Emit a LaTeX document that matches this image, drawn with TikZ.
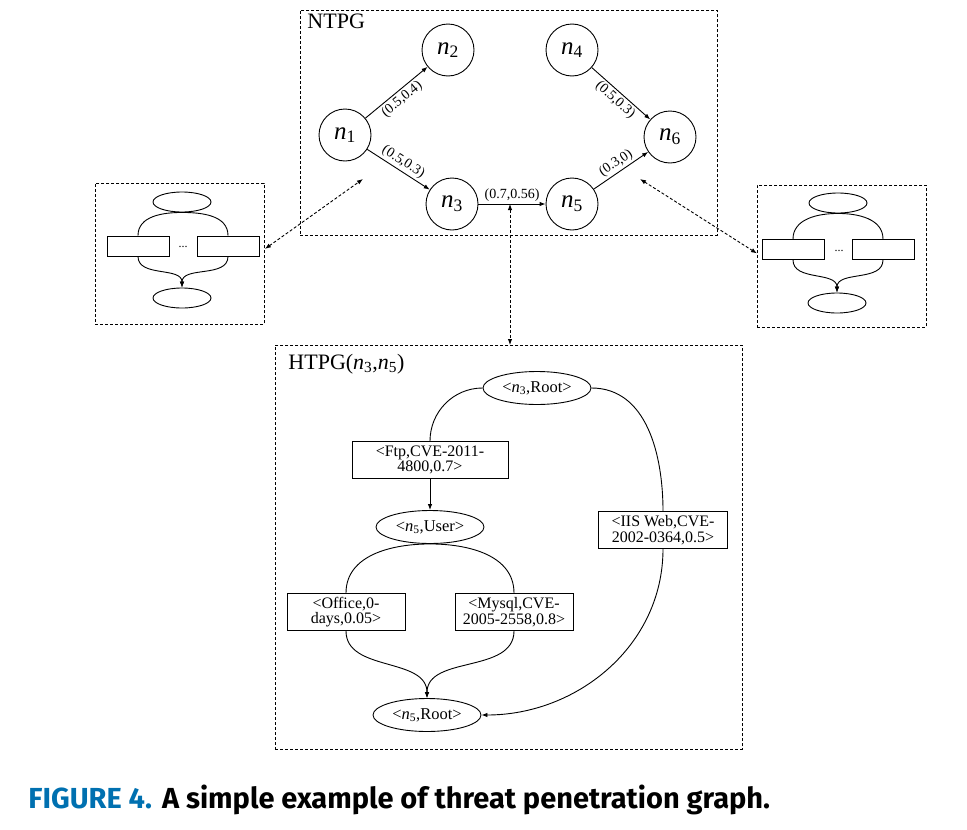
\documentclass[tikz,border=0pt]{standalone}
\usepackage{fontspec}
\setmainfont{Liberation Serif}
\newfontfamily\capfont{Fira Sans}
\usetikzlibrary{positioning, shapes.geometric, arrows.meta}
\definecolor{figblue}{RGB}{0,112,176}
\newcommand{\nsub}[1]{\textit{n}\textsubscript{#1}}

\begin{document}
\begin{tikzpicture}[x=1pt, y=1pt, line width=0.9pt,
    state/.style={draw, circle, minimum size=52pt, inner sep=0pt, font=\fontsize{25}{25}\selectfont},
    frame/.style={draw, dash pattern=on 3pt off 2pt, inner sep=0pt},
    edge/.style={-{Latex[length=6pt,width=4.5pt]}},
    link/.style={{Latex[length=6pt,width=4.5pt]}-{Latex[length=6pt,width=4.5pt]}, dash pattern=on 3pt off 2pt},
    weight/.style={font=\fontsize{14}{14}\selectfont, inner sep=2pt},
    title/.style={anchor=north west, inner sep=0pt, font=\fontsize{22}{22}\selectfont},
    priv/.style={draw, ellipse, minimum width=108pt, minimum height=33pt, inner sep=0pt, font=\fontsize{16.5}{16.5}\selectfont},
    vuln/.style={draw, rectangle, minimum height=37pt, inner sep=1pt, align=center, font=\fontsize{16}{15.5}\selectfont},
    blob/.style={draw, ellipse, minimum width=58pt, minimum height=20pt, inner sep=0pt},
    slot/.style={draw, rectangle, minimum width=62pt, minimum height=20pt, inner sep=0pt}
]
\useasboundingbox (0,0) rectangle (967,-830);

% network level threat penetration graph
\node[frame, minimum width=417pt, minimum height=225pt, anchor=north west] (ntpg) at (300,-10) {};
\node[title] (ntpglab) at (307,-13) {NTPG};
\node[state] (n1) at (345,-135) {\nsub{1}};
\node[state] (n2) at (448,-50) {\nsub{2}};
\node[state] (n3) at (452,-204) {\nsub{3}};
\node[state] (n4) at (572,-50) {\nsub{4}};
\node[state] (n5) at (572,-204) {\nsub{5}};
\node[state] (n6) at (670,-137) {\nsub{6}};

\draw[edge] (n1) -- node[weight, sloped, below] {(0.5,0.4)} (n2);
\draw[edge] (n1) -- node[weight, sloped, above] {(0.5,0.3)} (n3);
\draw[edge] (n3) -- node[weight, above] {(0.7,0.56)} (n5);
\draw[edge] (n4) -- node[weight, sloped, below] {(0.5,0.3)} (n6);
\draw[edge] (n5) -- node[weight, sloped, above] {(0.3,0)} (n6);

% left host graph
\node[frame, minimum width=169pt, minimum height=141pt, anchor=north west] (lbox) at (95,-183) {};
\node[blob] (ltop) at (182,-202) {};
\node[slot] (lslot1) at (138,-246) {};
\node[slot] (lslot2) at (228,-246) {};
\node[font=\fontsize{12}{12}\selectfont] (ldots) at (183,-247) {...};
\node[blob] (lbot) at (182,-298) {};
\draw (ltop.south) to[out=180, in=90] (lslot1.north);
\draw (ltop.south) to[out=0, in=90] (lslot2.north);
\draw[edge] (lslot1.south) to[out=-90, in=90] (lbot.north);
\draw[edge] (lslot2.south) to[out=-90, in=90] (lbot.north);

% right host graph
\node[frame, minimum width=169pt, minimum height=142pt, anchor=north west] (rbox) at (757,-185) {};
\node[blob] (rtop) at (838,-203) {};
\node[slot] (rslot1) at (793,-249.5) {};
\node[slot] (rslot2) at (883,-249.5) {};
\node[font=\fontsize{12}{12}\selectfont] (rdots) at (839,-251) {...};
\node[blob] (rbot) at (837,-303) {};
\draw (rtop.south) to[out=180, in=90] (rslot1.north);
\draw (rtop.south) to[out=0, in=90] (rslot2.north);
\draw[edge] (rslot1.south) to[out=-90, in=90] (rbot.north);
\draw[edge] (rslot2.south) to[out=-90, in=90] (rbot.north);

% host level graph between n3 and n5
\node[frame, minimum width=467pt, minimum height=404pt, anchor=north west] (htpg) at (275,-345) {};
\node[title] (htpglab) at (288,-354) {HTPG(\textit{n}\textsubscript{3},\textit{n}\textsubscript{5})};
\node[priv] (root3) at (537,-388) {<\nsub{3},Root>};
\node[vuln, minimum width=156pt] (ftp) at (430,-460) {<Ftp,CVE-2011-\\4800,0.7>};
\node[priv] (user5) at (430,-527) {<\nsub{5},User>};
\node[vuln, minimum width=129pt] (iis) at (663,-530) {<IIS Web,CVE-\\2002-0364,0.5>};
\node[vuln, minimum width=118pt] (office) at (346,-612) {<Office,0-\\days,0.05>};
\node[vuln, minimum width=118pt] (mysql) at (514,-612) {<Mysql,CVE-\\2005-2558,0.8>};
\node[priv] (root5) at (427,-715) {<\nsub{5},Root>};

\draw (root3.west) to[out=180, in=90] (ftp.north);
\draw (root3.east) to[out=0, in=90] (iis.north);
\draw[edge] (ftp) -- (user5);
\draw (user5.south) to[out=180, in=90] (office.north);
\draw (user5.south) to[out=0, in=90] (mysql.north);
\draw[edge] (office.south) to[out=-90, in=90] (root5.north);
\draw[edge] (mysql.south) to[out=-90, in=90] (root5.north);
\draw[edge] (iis.south) to[out=-90, in=0] (root5.east);

% links between levels
\coordinate (ltip) at (363,-179);
\coordinate (rtip) at (640,-179);
\coordinate (mtip) at (510,-204);
\draw[link] ([yshift=5pt]lbox.east) -- (ltip);
\draw[link] (rtip) -- ([yshift=3pt]rbox.west);
\draw[link] (mtip) -- (mtip |- htpg.north);

\node[anchor=west, inner sep=0pt, font=\capfont\bfseries\fontsize{29}{29}\selectfont] (caption) at (28,-800)
  {\textcolor{figblue}{FIGURE 4.}\hspace{10pt}A simple example of threat penetration graph.};
\end{tikzpicture}
\end{document}
